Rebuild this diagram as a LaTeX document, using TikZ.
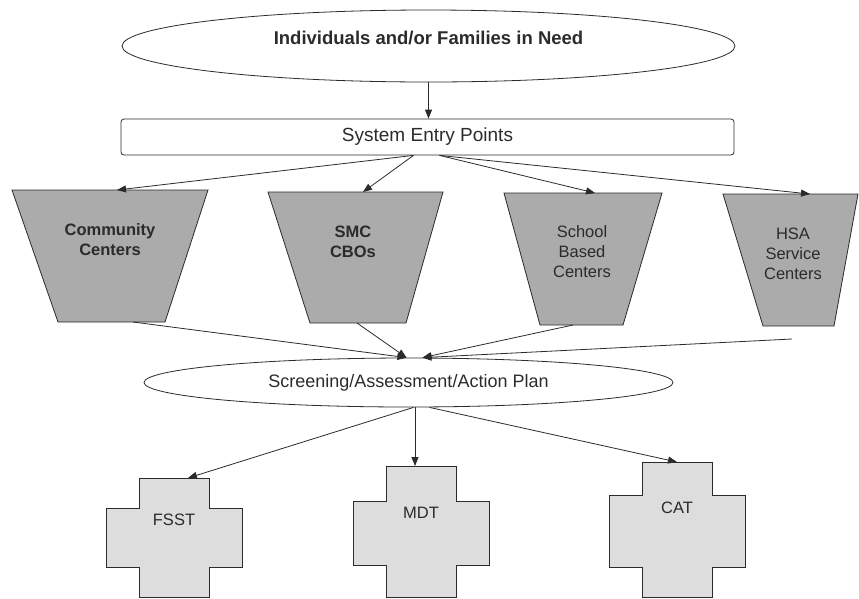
\documentclass[tikz,border=0pt]{standalone}
\usepackage{fontspec}
\setmainfont{Liberation Sans}
\usetikzlibrary{arrows.meta,shapes.geometric}
\definecolor{ink}{HTML}{2B2B2B}
\definecolor{trapgray}{HTML}{ABABAB}
\definecolor{crossgray}{HTML}{DDDDDD}
\newcommand{\chartfont}[1]{\fontsize{#1}{20}\selectfont}

\begin{document}
\begin{tikzpicture}[x=1pt,y=-1pt,
every node/.style={text=ink},
arr/.style={draw=ink,line width=0.8pt,-{Triangle[length=9pt,width=7pt]}},
oval/.style={draw=ink,line width=0.8pt,ellipse,inner sep=0pt},
trapbox/.style={draw=ink,line width=0.8pt,fill=trapgray},
traptext/.style={align=center},
crossbox/.style={draw=ink,line width=0.8pt,fill=crossgray}]

\useasboundingbox (0,0) rectangle (859,598);

%top of the chart
\node[oval,minimum width=613pt,minimum height=72pt,text height=14pt,text depth=18pt,
  font=\chartfont{18.5}\bfseries] (need) at (428.5,46) {Individuals and/or Families in Need};
\node[draw=ink,line width=0.8pt,rounded corners=3pt,minimum width=613pt,minimum height=36pt,
  inner sep=0pt,font=\chartfont{19}] (entry) at (427.5,137) {System Entry Points};
\draw[arr] (need.south) -- (need.south |- entry.north);

%entry points: corners, where the arrows come in and go out
\foreach \name/\tl/\tr/\bl/\br/\yt/\yb/\ix/\ox/\oy in
  {cc/12/208/58/165/190/322/117/133/322, smc/268/443/310/406/192/323/363/357/323,
   sbc/504/662/540/623/193/325/595/573/325, hsa/723/858/763/834/194/326/810/792/339}{
  \draw[trapbox] (\tl,\yt) -- (\tr,\yt) -- (\br,\yb) -- (\bl,\yb) -- cycle;
  \coordinate (\name-in) at (\ix,\yt);
  \coordinate (\name-out) at (\ox,\oy);
}
\node[traptext,font=\chartfont{16.5}\bfseries] (cc) at (110,240) {Community\\Centers};
\node[traptext,font=\chartfont{16.5}\bfseries] (smc) at (353,242) {SMC\\CBOs};
\node[traptext,font=\chartfont{16.5}] (sbc) at (582,252) {School\\Based\\Centers};
\node[traptext,font=\chartfont{16.5}] (hsa) at (793,254) {HSA\\Service\\Centers};

\draw[arr] ([xshift=-14pt]entry.south) -- (cc-in);
\draw[arr] ([xshift=-14pt]entry.south) -- (smc-in);
\draw[arr] ([xshift=12pt]entry.south) -- (sbc-in);
\draw[arr] ([xshift=12pt]entry.south) -- (hsa-in);

%screening
\node[oval,minimum width=529pt,minimum height=49pt,font=\chartfont{18}] (scr) at (408.5,382.5)
  {Screening/Assessment/Action Plan};

\draw[arr] (cc-out) -- ([xshift=-2pt]scr.north);
\draw[arr] (smc-out) -- ([xshift=-2pt]scr.north);
\draw[arr] (sbc-out) -- ([xshift=14pt]scr.north);
\draw[arr] (hsa-out) -- ([xshift=14pt]scr.north);

%teams
\foreach \name/\cx/\ax/\top/\at/\ab/\ty/\txt in
  {fsst/174/188/478/508/567/520/FSST, mdt/421/415/466/501/565/513/MDT, cat/677/677/462/495/567/508/CAT}{
  \draw[crossbox] ({\cx-35},\top) -- ({\cx+35},\top) -- ({\cx+35},\at) -- ({\cx+68},\at)
    -- ({\cx+68},\ab) -- ({\cx+35},\ab) -- ({\cx+35},597) -- ({\cx-35},597) -- ({\cx-35},\ab)
    -- ({\cx-68},\ab) -- ({\cx-68},\at) -- ({\cx-35},\at) -- cycle;
  \coordinate (\name) at (\ax,\top);
  \node[font=\chartfont{16.5}] (\name-text) at (\cx,\ty) {\txt};
}

\draw[arr] ([xshift=5pt]scr.south) -- (fsst);
\draw[arr] (scr.south -| mdt) -- (mdt);
\draw[arr] ([xshift=21pt]scr.south) -- (cat);
\end{tikzpicture}
\end{document}
